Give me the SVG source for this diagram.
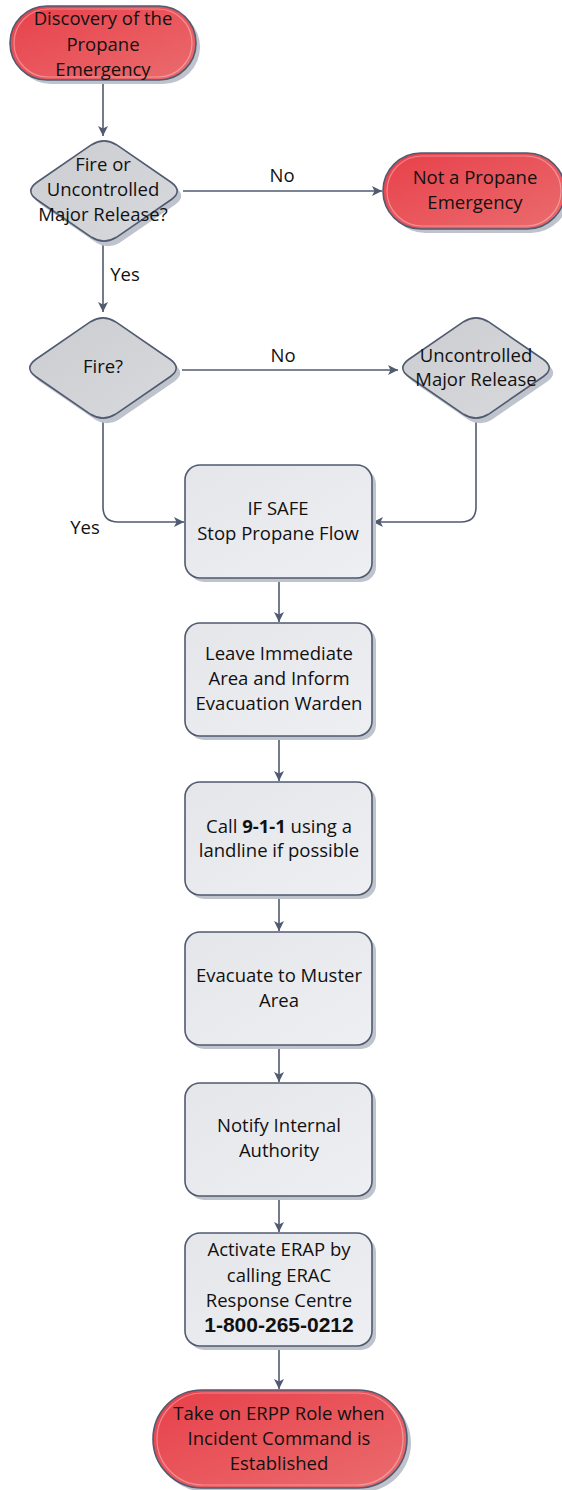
<svg xmlns="http://www.w3.org/2000/svg" width="562" height="1490" viewBox="0 0 562 1490">
<style>
.t{font-family:"Open Sans","Noto Sans","DejaVu Sans",sans-serif;font-size:18.5px;fill:#111111;text-anchor:middle}
.lbl{font-family:"Open Sans","Noto Sans","DejaVu Sans",sans-serif;font-size:18.5px;fill:#111111;text-anchor:middle}
.shadow{fill:#bfc3cc}
.term{fill:url(#red);stroke:#505a70;stroke-width:1.6}
.dec{fill:url(#gray);stroke:#505a70;stroke-width:1.6}
.proc{fill:url(#light);stroke:#505a70;stroke-width:1.6}
.rim{fill:none;stroke:#ffffff;stroke-opacity:0.35;stroke-width:1.2}
.conn{fill:none;stroke:#505a70;stroke-width:1.6}
</style>
<defs>
<linearGradient id="red" x1="0" y1="0" x2="1" y2="1">
<stop offset="0" stop-color="#e8404a"/>
<stop offset="1" stop-color="#ea6c6e"/>
</linearGradient>
<linearGradient id="gray" x1="0" y1="0" x2="1" y2="1">
<stop offset="0" stop-color="#cccdd1"/>
<stop offset="1" stop-color="#d8d9dc"/>
</linearGradient>
<linearGradient id="light" x1="0" y1="0" x2="1" y2="1">
<stop offset="0" stop-color="#e5e6ea"/>
<stop offset="1" stop-color="#eeeff2"/>
</linearGradient>
<path id="dia" d="M 12.4,-46.3 L 67.4,-8.5 Q 79,0 67.4,8.5 L 12.4,46.3 Q 0,54 -12.4,46.3 L -67.4,8.5 Q -79,0 -67.4,-8.5 L -12.4,-46.3 Q 0,-54 12.4,-46.3 Z"/>
<marker id="arr" viewBox="0 0 10 10" refX="10" refY="5" markerWidth="10" markerHeight="10" markerUnits="userSpaceOnUse" orient="auto">
<path d="M0,0 L10,5 L0,10 L2.5,5 Z" fill="#505a70"/>
</marker>
</defs>

<g id="connectors">
<path class="conn" d="M103,82 V136" marker-end="url(#arr)"/>
<path class="conn" d="M183,191 H382" marker-end="url(#arr)"/>
<path class="conn" d="M103,245 V312" marker-end="url(#arr)"/>
<path class="conn" d="M182,370 H398" marker-end="url(#arr)"/>
<path class="conn" d="M103,422 V507 Q103,522 118,522 H184" marker-end="url(#arr)"/>
<path class="conn" d="M476,422 V507 Q476,522 461,522 H373" marker-end="url(#arr)"/>
<path class="conn" d="M279,578 V622" marker-end="url(#arr)"/>
<path class="conn" d="M279,736 V781" marker-end="url(#arr)"/>
<path class="conn" d="M279,895 V931" marker-end="url(#arr)"/>
<path class="conn" d="M279,1045 V1082" marker-end="url(#arr)"/>
<path class="conn" d="M279,1196 V1232" marker-end="url(#arr)"/>
<path class="conn" d="M279,1346 V1389" marker-end="url(#arr)"/>
<text class="lbl" x="282" y="182">No</text>
<text class="lbl" x="125" y="281">Yes</text>
<text class="lbl" x="283" y="362">No</text>
<text class="lbl" x="85" y="534">Yes</text>
</g>

<g id="start">
<rect class="shadow" x="14" y="10" width="186" height="74" rx="37"/>
<rect class="term" x="10" y="6" width="186" height="74" rx="37"/>
<rect class="rim" x="14" y="9" width="178" height="68" rx="34"/>
<text class="t" x="103" y="25">Discovery of the</text>
<text class="t" x="103" y="51">Propane</text>
<text class="t" x="103" y="76">Emergency</text>
</g>

<g id="decision1">
<use href="#dia" class="shadow" transform="translate(108,196)"/>
<use href="#dia" class="dec" transform="translate(104,191)"/>
<text class="t" x="103" y="171">Fire or</text>
<text class="t" x="103" y="196">Uncontrolled</text>
<text class="t" x="103" y="221">Major Release?</text>
</g>

<g id="notPropane">
<rect class="shadow" x="387" y="157" width="182" height="76" rx="38"/>
<rect class="term" x="383" y="153" width="182" height="76" rx="38"/>
<rect class="rim" x="387" y="156" width="174" height="70" rx="35"/>
<text class="t" x="475" y="184">Not a Propane</text>
<text class="t" x="475" y="209">Emergency</text>
</g>

<g id="decision2">
<use href="#dia" class="shadow" transform="translate(107,373)"/>
<use href="#dia" class="dec" transform="translate(103,368)"/>
<text class="t" x="103" y="373">Fire?</text>
</g>

<g id="decision3">
<use href="#dia" class="shadow" transform="translate(480,373)"/>
<use href="#dia" class="dec" transform="translate(476,368)"/>
<text class="t" x="476" y="362">Uncontrolled</text>
<text class="t" x="476" y="386">Major Release</text>
</g>

<g id="stopFlow">
<rect class="shadow" x="189" y="469" width="187" height="113" rx="15"/>
<rect class="proc" x="185" y="465" width="187" height="113" rx="15"/>
<text class="t" x="278" y="515">IF SAFE</text>
<text class="t" x="278" y="540">Stop Propane Flow</text>
</g>

<g id="leaveArea">
<rect class="shadow" x="189" y="627" width="187" height="113" rx="15"/>
<rect class="proc" x="185" y="623" width="187" height="113" rx="15"/>
<text class="t" x="279" y="660">Leave Immediate</text>
<text class="t" x="279" y="685">Area and Inform</text>
<text class="t" x="279" y="710">Evacuation Warden</text>
</g>

<g id="call911">
<rect class="shadow" x="189" y="786" width="187" height="113" rx="15"/>
<rect class="proc" x="185" y="782" width="187" height="113" rx="15"/>
<text class="t" x="279" y="833">Call <tspan font-weight="bold">9-1-1</tspan> using a</text>
<text class="t" x="279" y="857">landline if possible</text>
</g>

<g id="evacuate">
<rect class="shadow" x="189" y="936" width="187" height="113" rx="15"/>
<rect class="proc" x="185" y="932" width="187" height="113" rx="15"/>
<text class="t" x="279" y="982">Evacuate to Muster</text>
<text class="t" x="279" y="1007">Area</text>
</g>

<g id="notify">
<rect class="shadow" x="189" y="1087" width="187" height="113" rx="15"/>
<rect class="proc" x="185" y="1083" width="187" height="113" rx="15"/>
<text class="t" x="279" y="1132">Notify Internal</text>
<text class="t" x="279" y="1157">Authority</text>
</g>

<g id="activateErap">
<rect class="shadow" x="189" y="1237" width="187" height="113" rx="15"/>
<rect class="proc" x="185" y="1233" width="187" height="113" rx="15"/>
<text class="t" x="279" y="1256">Activate ERAP by</text>
<text class="t" x="279" y="1282">calling ERAC</text>
<text class="t" x="279" y="1307">Response Centre</text>
<text x="279" y="1332" text-anchor="middle" font-family="'Liberation Sans',Arial,sans-serif" font-weight="bold" font-size="21" fill="#111">1-800-265-0212</text>
</g>

<g id="end">
<rect class="shadow" x="157" y="1394" width="254" height="98" rx="49"/>
<rect class="term" x="153" y="1390" width="254" height="98" rx="49"/>
<rect class="rim" x="157" y="1393" width="246" height="92" rx="46"/>
<text class="t" x="279" y="1420">Take on ERPP Role when</text>
<text class="t" x="279" y="1445">Incident Command is</text>
<text class="t" x="279" y="1470">Established</text>
</g>
</svg>
